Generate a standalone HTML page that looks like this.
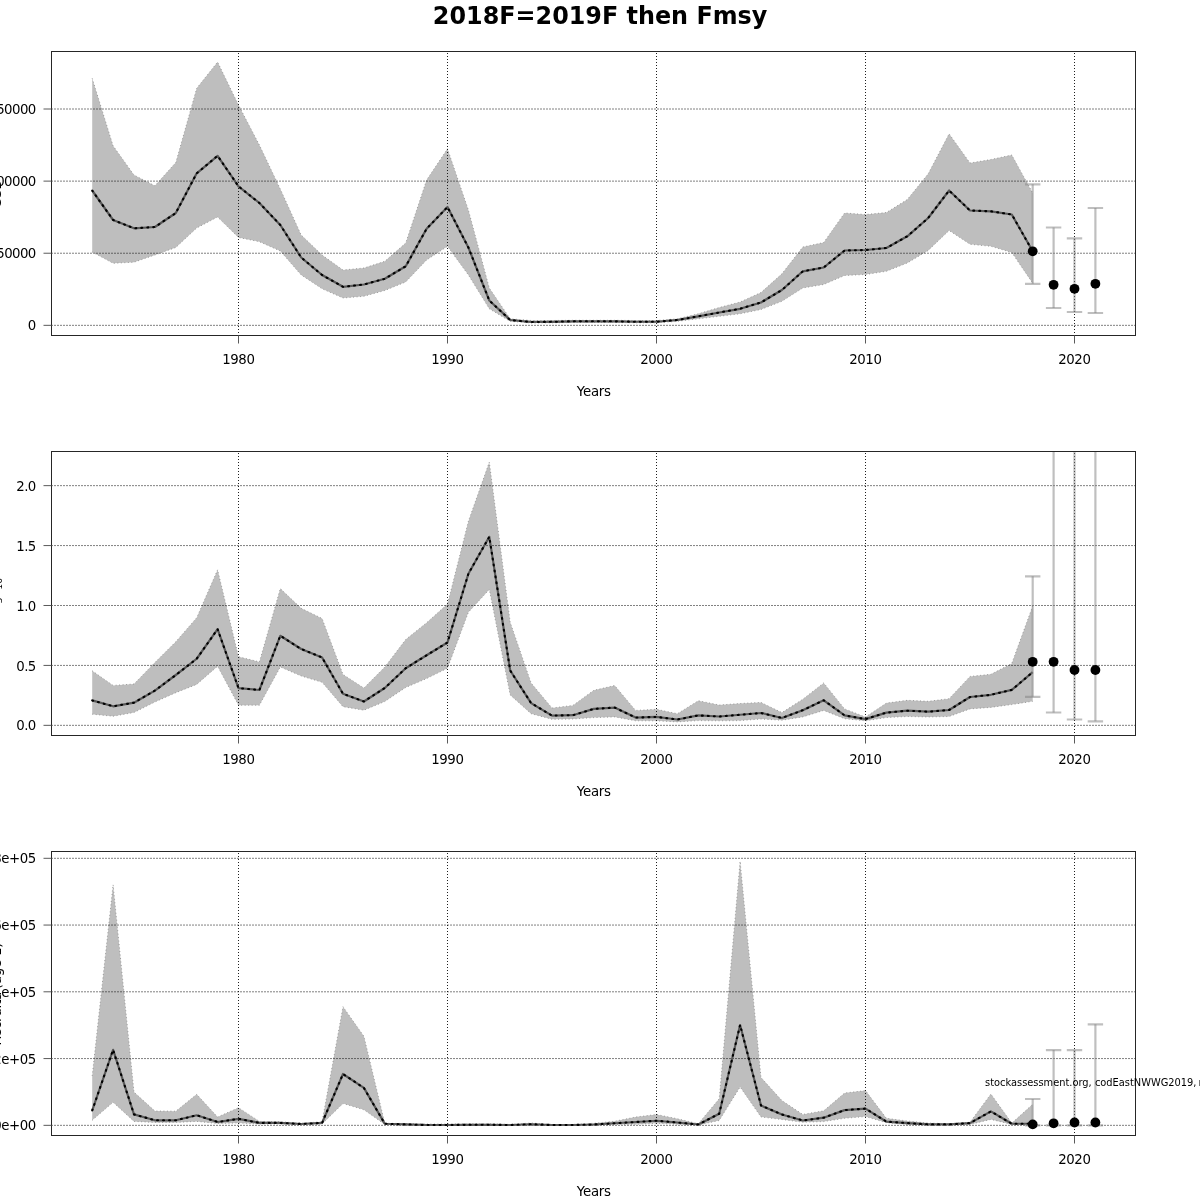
<!DOCTYPE html>
<html><head><meta charset="utf-8"><title>2018F=2019F then Fmsy</title>
<style>
html,body{margin:0;padding:0;background:#fff;}
svg{display:block;will-change:transform;}
text{font-family:'DejaVu Sans', 'Liberation Sans', sans-serif;fill:#000;}
</style></head><body>
<svg width="1200" height="1200" viewBox="0 0 1200 1200">
<rect x="0" y="0" width="1200" height="1200" fill="#fff"/>
<defs>
<clipPath id="c0"><rect x="51.5" y="51.5" width="1084" height="284"/></clipPath>
<clipPath id="c1"><rect x="51.5" y="451.5" width="1084" height="284"/></clipPath>
<clipPath id="c2"><rect x="51.5" y="851.5" width="1084" height="284"/></clipPath>
</defs>
<text x="600.1" y="24.4" text-anchor="middle" font-weight="bold" font-size="24" textLength="334.5" lengthAdjust="spacingAndGlyphs">2018F=2019F then Fmsy</text>

<g clip-path="url(#c0)">
<polygon points="92.20,78.30 113.10,145.80 134.00,175.00 154.90,185.80 175.80,162.50 196.70,88.30 217.60,62.00 238.50,105.00 259.40,145.00 280.30,189.00 301.20,235.00 322.10,255.00 343.00,270.00 363.90,268.00 384.80,261.30 405.70,243.00 426.60,180.00 447.50,148.80 468.40,210.00 489.30,288.00 510.20,318.80 531.10,320.50 552.00,320.50 572.90,320.30 593.80,320.30 614.70,320.30 635.60,320.50 656.50,320.50 677.40,318.80 698.30,313.80 719.20,307.50 740.10,302.00 761.00,292.50 781.90,273.80 802.80,247.00 823.70,242.50 844.60,213.00 865.50,214.50 886.40,212.50 907.30,199.50 928.20,173.80 949.10,133.80 970.00,163.00 990.90,159.50 1011.80,155.00 1032.70,193.00 1032.70,283.20 1011.80,252.50 990.90,246.30 970.00,244.30 949.10,230.50 928.20,250.50 907.30,263.00 886.40,271.30 865.50,274.50 844.60,275.50 823.70,284.50 802.80,288.00 781.90,301.30 761.00,309.50 740.10,313.80 719.20,316.30 698.30,318.80 677.40,321.30 656.50,322.80 635.60,322.80 614.70,322.50 593.80,322.50 572.90,322.50 552.00,322.80 531.10,323.00 510.20,321.30 489.30,308.80 468.40,275.00 447.50,246.30 426.60,260.00 405.70,282.00 384.80,290.50 363.90,296.30 343.00,298.00 322.10,288.80 301.20,275.00 280.30,251.00 259.40,241.70 238.50,237.50 217.60,217.00 196.70,228.00 175.80,247.50 154.90,255.00 134.00,262.20 113.10,263.30 92.20,252.00" fill="#bebebe" stroke="none"/>
<polyline points="92.20,78.30 113.10,145.80 134.00,175.00 154.90,185.80 175.80,162.50 196.70,88.30 217.60,62.00 238.50,105.00 259.40,145.00 280.30,189.00 301.20,235.00 322.10,255.00 343.00,270.00 363.90,268.00 384.80,261.30 405.70,243.00 426.60,180.00 447.50,148.80 468.40,210.00 489.30,288.00 510.20,318.80 531.10,320.50 552.00,320.50 572.90,320.30 593.80,320.30 614.70,320.30 635.60,320.50 656.50,320.50 677.40,318.80 698.30,313.80 719.20,307.50 740.10,302.00 761.00,292.50 781.90,273.80 802.80,247.00 823.70,242.50 844.60,213.00 865.50,214.50 886.40,212.50 907.30,199.50 928.20,173.80 949.10,133.80 970.00,163.00 990.90,159.50 1011.80,155.00 1032.70,193.00" fill="none" stroke="#8a8a8a" stroke-width="0.8" stroke-dasharray="1 2.5"/>
<polyline points="92.20,252.00 113.10,263.30 134.00,262.20 154.90,255.00 175.80,247.50 196.70,228.00 217.60,217.00 238.50,237.50 259.40,241.70 280.30,251.00 301.20,275.00 322.10,288.80 343.00,298.00 363.90,296.30 384.80,290.50 405.70,282.00 426.60,260.00 447.50,246.30 468.40,275.00 489.30,308.80 510.20,321.30 531.10,323.00 552.00,322.80 572.90,322.50 593.80,322.50 614.70,322.50 635.60,322.80 656.50,322.80 677.40,321.30 698.30,318.80 719.20,316.30 740.10,313.80 761.00,309.50 781.90,301.30 802.80,288.00 823.70,284.50 844.60,275.50 865.50,274.50 886.40,271.30 907.30,263.00 928.20,250.50 949.10,230.50 970.00,244.30 990.90,246.30 1011.80,252.50 1032.70,283.20" fill="none" stroke="#8a8a8a" stroke-width="0.8" stroke-dasharray="1 2.5"/>
<line x1="238.50" y1="53.0" x2="238.50" y2="335.5" stroke="#1e1e1e" stroke-width="1" stroke-dasharray="1 2"/>
<line x1="447.50" y1="53.0" x2="447.50" y2="335.5" stroke="#1e1e1e" stroke-width="1" stroke-dasharray="1 2"/>
<line x1="656.50" y1="53.0" x2="656.50" y2="335.5" stroke="#1e1e1e" stroke-width="1" stroke-dasharray="1 2"/>
<line x1="865.50" y1="53.0" x2="865.50" y2="335.5" stroke="#1e1e1e" stroke-width="1" stroke-dasharray="1 2"/>
<line x1="1074.50" y1="53.0" x2="1074.50" y2="335.5" stroke="#1e1e1e" stroke-width="1" stroke-dasharray="1 2"/>
<line x1="51.5" y1="325.33" x2="1135.5" y2="325.33" stroke="#000" stroke-width="1" stroke-dasharray="1 2"/>
<line x1="51.5" y1="253.22" x2="1135.5" y2="253.22" stroke="#000" stroke-width="1" stroke-dasharray="1 2"/>
<line x1="51.5" y1="181.11" x2="1135.5" y2="181.11" stroke="#000" stroke-width="1" stroke-dasharray="1 2"/>
<line x1="51.5" y1="109.0" x2="1135.5" y2="109.0" stroke="#000" stroke-width="1" stroke-dasharray="1 2"/>
<polyline points="92.20,190.50 113.10,220.00 134.00,228.30 154.90,227.00 175.80,213.00 196.70,173.30 217.60,155.80 238.50,186.30 259.40,203.00 280.30,225.00 301.20,257.50 322.10,275.00 343.00,286.80 363.90,284.50 384.80,278.80 405.70,266.30 426.60,228.80 447.50,207.00 468.40,247.50 489.30,300.50 510.20,320.00 531.10,322.00 552.00,321.80 572.90,321.30 593.80,321.30 614.70,321.30 635.60,321.75 656.50,321.75 677.40,320.00 698.30,316.30 719.20,312.50 740.10,308.80 761.00,302.50 781.90,290.00 802.80,271.30 823.70,267.50 844.60,250.50 865.50,250.00 886.40,248.00 907.30,236.30 928.20,218.00 949.10,190.50 970.00,210.50 990.90,211.30 1011.80,214.50 1032.70,251.30" fill="none" stroke="#5a5a5a" stroke-width="2.2" stroke-linejoin="round"/>
<polyline points="92.20,190.50 113.10,220.00 134.00,228.30 154.90,227.00 175.80,213.00 196.70,173.30 217.60,155.80 238.50,186.30 259.40,203.00 280.30,225.00 301.20,257.50 322.10,275.00 343.00,286.80 363.90,284.50 384.80,278.80 405.70,266.30 426.60,228.80 447.50,207.00 468.40,247.50 489.30,300.50 510.20,320.00 531.10,322.00 552.00,321.80 572.90,321.30 593.80,321.30 614.70,321.30 635.60,321.75 656.50,321.75 677.40,320.00 698.30,316.30 719.20,312.50 740.10,308.80 761.00,302.50 781.90,290.00 802.80,271.30 823.70,267.50 844.60,250.50 865.50,250.00 886.40,248.00 907.30,236.30 928.20,218.00 949.10,190.50 970.00,210.50 990.90,211.30 1011.80,214.50 1032.70,251.30" fill="none" stroke="#000" stroke-width="2.1" stroke-dasharray="0.9 5.1" stroke-linecap="round" stroke-linejoin="round"/>
<line x1="1032.70" y1="184.3" x2="1032.70" y2="283.8" stroke="rgba(128,128,128,0.5)" stroke-width="2.2"/>
<line x1="1025.00" y1="184.3" x2="1040.40" y2="184.3" stroke="rgba(128,128,128,0.5)" stroke-width="2.2"/>
<line x1="1025.00" y1="283.8" x2="1040.40" y2="283.8" stroke="rgba(128,128,128,0.5)" stroke-width="2.2"/>
<line x1="1053.60" y1="227.5" x2="1053.60" y2="308" stroke="rgba(128,128,128,0.5)" stroke-width="2.2"/>
<line x1="1045.90" y1="227.5" x2="1061.30" y2="227.5" stroke="rgba(128,128,128,0.5)" stroke-width="2.2"/>
<line x1="1045.90" y1="308" x2="1061.30" y2="308" stroke="rgba(128,128,128,0.5)" stroke-width="2.2"/>
<line x1="1074.50" y1="238.3" x2="1074.50" y2="312" stroke="rgba(128,128,128,0.5)" stroke-width="2.2"/>
<line x1="1066.80" y1="238.3" x2="1082.20" y2="238.3" stroke="rgba(128,128,128,0.5)" stroke-width="2.2"/>
<line x1="1066.80" y1="312" x2="1082.20" y2="312" stroke="rgba(128,128,128,0.5)" stroke-width="2.2"/>
<line x1="1095.40" y1="208" x2="1095.40" y2="313" stroke="rgba(128,128,128,0.5)" stroke-width="2.2"/>
<line x1="1087.70" y1="208" x2="1103.10" y2="208" stroke="rgba(128,128,128,0.5)" stroke-width="2.2"/>
<line x1="1087.70" y1="313" x2="1103.10" y2="313" stroke="rgba(128,128,128,0.5)" stroke-width="2.2"/>
<circle cx="1032.70" cy="251.3" r="4.9" fill="#000"/>
<circle cx="1053.60" cy="284.8" r="4.9" fill="#000"/>
<circle cx="1074.50" cy="288.8" r="4.9" fill="#000"/>
<circle cx="1095.40" cy="283.8" r="4.9" fill="#000"/>
</g>
<rect x="51.5" y="51.5" width="1084.0" height="284.0" fill="none" stroke="#262626" stroke-width="1"/>
<line x1="238.50" y1="335.5" x2="238.50" y2="343.5" stroke="#5a5a5a" stroke-width="1"/>
<text x="238.50" y="364.0" text-anchor="middle" font-size="13.33" textLength="32.75">1980</text>
<line x1="447.50" y1="335.5" x2="447.50" y2="343.5" stroke="#5a5a5a" stroke-width="1"/>
<text x="447.50" y="364.0" text-anchor="middle" font-size="13.33" textLength="32.75">1990</text>
<line x1="656.50" y1="335.5" x2="656.50" y2="343.5" stroke="#5a5a5a" stroke-width="1"/>
<text x="656.50" y="364.0" text-anchor="middle" font-size="13.33" textLength="32.75">2000</text>
<line x1="865.50" y1="335.5" x2="865.50" y2="343.5" stroke="#5a5a5a" stroke-width="1"/>
<text x="865.50" y="364.0" text-anchor="middle" font-size="13.33" textLength="32.75">2010</text>
<line x1="1074.50" y1="335.5" x2="1074.50" y2="343.5" stroke="#5a5a5a" stroke-width="1"/>
<text x="1074.50" y="364.0" text-anchor="middle" font-size="13.33" textLength="32.75">2020</text>
<line x1="43.5" y1="325.33" x2="51.5" y2="325.33" stroke="#5a5a5a" stroke-width="1"/>
<text x="36.3" y="330.43" text-anchor="end" font-size="13.33" textLength="8">0</text>
<line x1="43.5" y1="253.22" x2="51.5" y2="253.22" stroke="#5a5a5a" stroke-width="1"/>
<text x="36.3" y="258.32" text-anchor="end" font-size="13.33" textLength="40">50000</text>
<line x1="43.5" y1="181.11" x2="51.5" y2="181.11" stroke="#5a5a5a" stroke-width="1"/>
<text x="36.3" y="186.21" text-anchor="end" font-size="13.33" textLength="48">100000</text>
<line x1="43.5" y1="109.0" x2="51.5" y2="109.0" stroke="#5a5a5a" stroke-width="1"/>
<text x="36.3" y="114.10" text-anchor="end" font-size="13.33" textLength="48">150000</text>
<text x="593.9" y="395.8" text-anchor="middle" font-size="13.33" textLength="34.3">Years</text>
<text transform="translate(1,193.5) rotate(-90)" text-anchor="middle" font-size="13.33">SSB</text>
<g clip-path="url(#c1)">
<polygon points="92.20,670.80 113.10,685.40 134.00,684.00 154.90,662.50 175.80,641.70 196.70,617.70 217.60,569.80 238.50,656.70 259.40,661.90 280.30,588.50 301.20,608.30 322.10,618.50 343.00,674.40 363.90,688.00 384.80,667.00 405.70,639.50 426.60,622.70 447.50,604.00 468.40,521.20 489.30,462.10 510.20,622.20 531.10,682.90 552.00,708.00 572.90,705.40 593.80,690.30 614.70,685.50 635.60,710.40 656.50,709.30 677.40,713.70 698.30,700.70 719.20,705.00 740.10,703.50 761.00,702.40 781.90,712.60 802.80,699.20 823.70,682.90 844.60,708.90 865.50,717.00 886.40,703.10 907.30,700.30 928.20,701.30 949.10,698.70 970.00,676.40 990.90,674.30 1011.80,663.40 1032.70,606.00 1032.70,701.30 1011.80,704.60 990.90,707.40 970.00,708.90 949.10,716.50 928.20,717.00 907.30,716.50 886.40,717.60 865.50,720.80 844.60,718.70 823.70,710.40 802.80,716.90 781.90,720.20 761.00,719.00 740.10,720.60 719.20,720.80 698.30,720.60 677.40,721.90 656.50,720.80 635.60,720.80 614.70,716.90 593.80,717.60 572.90,719.00 552.00,719.30 531.10,713.70 510.20,695.00 489.30,589.50 468.40,612.20 447.50,668.20 426.60,678.60 405.70,687.50 384.80,701.50 363.90,710.20 343.00,706.70 322.10,682.30 301.20,676.00 280.30,667.00 259.40,705.20 238.50,705.20 217.60,666.25 196.70,684.40 175.80,692.70 154.90,702.00 134.00,712.50 113.10,716.25 92.20,714.20" fill="#bebebe" stroke="none"/>
<polyline points="92.20,670.80 113.10,685.40 134.00,684.00 154.90,662.50 175.80,641.70 196.70,617.70 217.60,569.80 238.50,656.70 259.40,661.90 280.30,588.50 301.20,608.30 322.10,618.50 343.00,674.40 363.90,688.00 384.80,667.00 405.70,639.50 426.60,622.70 447.50,604.00 468.40,521.20 489.30,462.10 510.20,622.20 531.10,682.90 552.00,708.00 572.90,705.40 593.80,690.30 614.70,685.50 635.60,710.40 656.50,709.30 677.40,713.70 698.30,700.70 719.20,705.00 740.10,703.50 761.00,702.40 781.90,712.60 802.80,699.20 823.70,682.90 844.60,708.90 865.50,717.00 886.40,703.10 907.30,700.30 928.20,701.30 949.10,698.70 970.00,676.40 990.90,674.30 1011.80,663.40 1032.70,606.00" fill="none" stroke="#8a8a8a" stroke-width="0.8" stroke-dasharray="1 2.5"/>
<polyline points="92.20,714.20 113.10,716.25 134.00,712.50 154.90,702.00 175.80,692.70 196.70,684.40 217.60,666.25 238.50,705.20 259.40,705.20 280.30,667.00 301.20,676.00 322.10,682.30 343.00,706.70 363.90,710.20 384.80,701.50 405.70,687.50 426.60,678.60 447.50,668.20 468.40,612.20 489.30,589.50 510.20,695.00 531.10,713.70 552.00,719.30 572.90,719.00 593.80,717.60 614.70,716.90 635.60,720.80 656.50,720.80 677.40,721.90 698.30,720.60 719.20,720.80 740.10,720.60 761.00,719.00 781.90,720.20 802.80,716.90 823.70,710.40 844.60,718.70 865.50,720.80 886.40,717.60 907.30,716.50 928.20,717.00 949.10,716.50 970.00,708.90 990.90,707.40 1011.80,704.60 1032.70,701.30" fill="none" stroke="#8a8a8a" stroke-width="0.8" stroke-dasharray="1 2.5"/>
<line x1="238.50" y1="453.0" x2="238.50" y2="735.5" stroke="#1e1e1e" stroke-width="1" stroke-dasharray="1 2"/>
<line x1="447.50" y1="453.0" x2="447.50" y2="735.5" stroke="#1e1e1e" stroke-width="1" stroke-dasharray="1 2"/>
<line x1="656.50" y1="453.0" x2="656.50" y2="735.5" stroke="#1e1e1e" stroke-width="1" stroke-dasharray="1 2"/>
<line x1="865.50" y1="453.0" x2="865.50" y2="735.5" stroke="#1e1e1e" stroke-width="1" stroke-dasharray="1 2"/>
<line x1="1074.50" y1="453.0" x2="1074.50" y2="735.5" stroke="#1e1e1e" stroke-width="1" stroke-dasharray="1 2"/>
<line x1="51.5" y1="725.33" x2="1135.5" y2="725.33" stroke="#000" stroke-width="1" stroke-dasharray="1 2"/>
<line x1="51.5" y1="665.41" x2="1135.5" y2="665.41" stroke="#000" stroke-width="1" stroke-dasharray="1 2"/>
<line x1="51.5" y1="605.49" x2="1135.5" y2="605.49" stroke="#000" stroke-width="1" stroke-dasharray="1 2"/>
<line x1="51.5" y1="545.57" x2="1135.5" y2="545.57" stroke="#000" stroke-width="1" stroke-dasharray="1 2"/>
<line x1="51.5" y1="485.65" x2="1135.5" y2="485.65" stroke="#000" stroke-width="1" stroke-dasharray="1 2"/>
<polyline points="92.20,700.40 113.10,706.30 134.00,702.70 154.90,690.60 175.80,675.00 196.70,658.75 217.60,629.20 238.50,688.10 259.40,690.00 280.30,635.80 301.20,649.00 322.10,657.50 343.00,693.80 363.90,701.50 384.80,688.00 405.70,668.20 426.60,655.30 447.50,642.50 468.40,573.70 489.30,536.80 510.20,670.50 531.10,703.10 552.00,715.60 572.90,715.20 593.80,708.90 614.70,707.60 635.60,717.60 656.50,716.90 677.40,719.50 698.30,715.40 719.20,716.50 740.10,714.75 761.00,713.00 781.90,718.00 802.80,710.20 823.70,700.30 844.60,715.40 865.50,719.10 886.40,712.60 907.30,710.70 928.20,711.70 949.10,710.00 970.00,697.00 990.90,694.80 1011.80,689.90 1032.70,672.10" fill="none" stroke="#5a5a5a" stroke-width="2.2" stroke-linejoin="round"/>
<polyline points="92.20,700.40 113.10,706.30 134.00,702.70 154.90,690.60 175.80,675.00 196.70,658.75 217.60,629.20 238.50,688.10 259.40,690.00 280.30,635.80 301.20,649.00 322.10,657.50 343.00,693.80 363.90,701.50 384.80,688.00 405.70,668.20 426.60,655.30 447.50,642.50 468.40,573.70 489.30,536.80 510.20,670.50 531.10,703.10 552.00,715.60 572.90,715.20 593.80,708.90 614.70,707.60 635.60,717.60 656.50,716.90 677.40,719.50 698.30,715.40 719.20,716.50 740.10,714.75 761.00,713.00 781.90,718.00 802.80,710.20 823.70,700.30 844.60,715.40 865.50,719.10 886.40,712.60 907.30,710.70 928.20,711.70 949.10,710.00 970.00,697.00 990.90,694.80 1011.80,689.90 1032.70,672.10" fill="none" stroke="#000" stroke-width="2.1" stroke-dasharray="0.9 5.1" stroke-linecap="round" stroke-linejoin="round"/>
<line x1="1032.70" y1="576.3" x2="1032.70" y2="696.8" stroke="rgba(128,128,128,0.5)" stroke-width="2.2"/>
<line x1="1025.00" y1="576.3" x2="1040.40" y2="576.3" stroke="rgba(128,128,128,0.5)" stroke-width="2.2"/>
<line x1="1025.00" y1="696.8" x2="1040.40" y2="696.8" stroke="rgba(128,128,128,0.5)" stroke-width="2.2"/>
<line x1="1053.60" y1="440" x2="1053.60" y2="712.5" stroke="rgba(128,128,128,0.5)" stroke-width="2.2"/>
<line x1="1045.90" y1="712.5" x2="1061.30" y2="712.5" stroke="rgba(128,128,128,0.5)" stroke-width="2.2"/>
<line x1="1074.50" y1="440" x2="1074.50" y2="719.5" stroke="rgba(128,128,128,0.5)" stroke-width="2.2"/>
<line x1="1066.80" y1="719.5" x2="1082.20" y2="719.5" stroke="rgba(128,128,128,0.5)" stroke-width="2.2"/>
<line x1="1095.40" y1="440" x2="1095.40" y2="721.3" stroke="rgba(128,128,128,0.5)" stroke-width="2.2"/>
<line x1="1087.70" y1="721.3" x2="1103.10" y2="721.3" stroke="rgba(128,128,128,0.5)" stroke-width="2.2"/>
<circle cx="1032.70" cy="661.8" r="4.9" fill="#000"/>
<circle cx="1053.60" cy="661.8" r="4.9" fill="#000"/>
<circle cx="1074.50" cy="670" r="4.9" fill="#000"/>
<circle cx="1095.40" cy="670" r="4.9" fill="#000"/>
</g>
<rect x="51.5" y="451.5" width="1084.0" height="284.0" fill="none" stroke="#262626" stroke-width="1"/>
<line x1="238.50" y1="735.5" x2="238.50" y2="743.5" stroke="#5a5a5a" stroke-width="1"/>
<text x="238.50" y="764.0" text-anchor="middle" font-size="13.33" textLength="32.75">1980</text>
<line x1="447.50" y1="735.5" x2="447.50" y2="743.5" stroke="#5a5a5a" stroke-width="1"/>
<text x="447.50" y="764.0" text-anchor="middle" font-size="13.33" textLength="32.75">1990</text>
<line x1="656.50" y1="735.5" x2="656.50" y2="743.5" stroke="#5a5a5a" stroke-width="1"/>
<text x="656.50" y="764.0" text-anchor="middle" font-size="13.33" textLength="32.75">2000</text>
<line x1="865.50" y1="735.5" x2="865.50" y2="743.5" stroke="#5a5a5a" stroke-width="1"/>
<text x="865.50" y="764.0" text-anchor="middle" font-size="13.33" textLength="32.75">2010</text>
<line x1="1074.50" y1="735.5" x2="1074.50" y2="743.5" stroke="#5a5a5a" stroke-width="1"/>
<text x="1074.50" y="764.0" text-anchor="middle" font-size="13.33" textLength="32.75">2020</text>
<line x1="43.5" y1="725.33" x2="51.5" y2="725.33" stroke="#5a5a5a" stroke-width="1"/>
<text x="36.3" y="730.43" text-anchor="end" font-size="13.33" textLength="20">0.0</text>
<line x1="43.5" y1="665.41" x2="51.5" y2="665.41" stroke="#5a5a5a" stroke-width="1"/>
<text x="36.3" y="670.51" text-anchor="end" font-size="13.33" textLength="20">0.5</text>
<line x1="43.5" y1="605.49" x2="51.5" y2="605.49" stroke="#5a5a5a" stroke-width="1"/>
<text x="36.3" y="610.59" text-anchor="end" font-size="13.33" textLength="20">1.0</text>
<line x1="43.5" y1="545.57" x2="51.5" y2="545.57" stroke="#5a5a5a" stroke-width="1"/>
<text x="36.3" y="550.67" text-anchor="end" font-size="13.33" textLength="20">1.5</text>
<line x1="43.5" y1="485.65" x2="51.5" y2="485.65" stroke="#5a5a5a" stroke-width="1"/>
<text x="36.3" y="490.75" text-anchor="end" font-size="13.33" textLength="20">2.0</text>
<text x="593.9" y="795.8" text-anchor="middle" font-size="13.33" textLength="34.3">Years</text>
<text transform="translate(-0.7,594.5) rotate(-90)" text-anchor="middle" font-size="13.33">F<tspan font-size="9.33" dy="2.2">3−10</tspan></text>
<g clip-path="url(#c2)">
<polygon points="92.20,1075.90 113.10,884.70 134.00,1092.10 154.90,1111.00 175.80,1111.20 196.70,1094.30 217.60,1117.00 238.50,1107.70 259.40,1121.40 280.30,1121.70 301.20,1123.30 322.10,1121.70 343.00,1006.70 363.90,1036.25 384.80,1123.30 405.70,1123.50 426.60,1124.00 447.50,1124.00 468.40,1123.80 489.30,1123.80 510.20,1124.50 531.10,1123.00 552.00,1124.50 572.90,1124.50 593.80,1123.30 614.70,1121.25 635.60,1117.00 656.50,1114.50 677.40,1118.75 698.30,1123.75 719.20,1098.75 740.10,861.25 761.00,1077.50 781.90,1100.50 802.80,1114.40 823.70,1110.80 844.60,1093.00 865.50,1090.60 886.40,1118.30 907.30,1121.00 928.20,1123.10 949.10,1123.75 970.00,1122.20 990.90,1094.00 1011.80,1123.10 1032.70,1104.25 1032.70,1124.40 1011.80,1124.40 990.90,1119.40 970.00,1124.40 949.10,1124.40 928.20,1124.40 907.30,1124.40 886.40,1122.70 865.50,1116.60 844.60,1118.30 823.70,1121.60 802.80,1122.20 781.90,1119.50 761.00,1117.00 740.10,1087.00 719.20,1120.50 698.30,1125.00 677.40,1124.25 656.50,1123.25 635.60,1124.25 614.70,1124.50 593.80,1125.20 572.90,1125.20 552.00,1125.20 531.10,1125.20 510.20,1125.20 489.30,1125.20 468.40,1125.20 447.50,1125.20 426.60,1125.20 405.70,1125.00 384.80,1124.40 363.90,1109.80 343.00,1103.50 322.10,1124.00 301.20,1124.60 280.30,1124.00 259.40,1124.00 238.50,1122.90 217.60,1123.50 196.70,1121.40 175.80,1122.40 154.90,1122.40 134.00,1121.40 113.10,1102.30 92.20,1120.30" fill="#bebebe" stroke="none"/>
<polyline points="92.20,1075.90 113.10,884.70 134.00,1092.10 154.90,1111.00 175.80,1111.20 196.70,1094.30 217.60,1117.00 238.50,1107.70 259.40,1121.40 280.30,1121.70 301.20,1123.30 322.10,1121.70 343.00,1006.70 363.90,1036.25 384.80,1123.30 405.70,1123.50 426.60,1124.00 447.50,1124.00 468.40,1123.80 489.30,1123.80 510.20,1124.50 531.10,1123.00 552.00,1124.50 572.90,1124.50 593.80,1123.30 614.70,1121.25 635.60,1117.00 656.50,1114.50 677.40,1118.75 698.30,1123.75 719.20,1098.75 740.10,861.25 761.00,1077.50 781.90,1100.50 802.80,1114.40 823.70,1110.80 844.60,1093.00 865.50,1090.60 886.40,1118.30 907.30,1121.00 928.20,1123.10 949.10,1123.75 970.00,1122.20 990.90,1094.00 1011.80,1123.10 1032.70,1104.25" fill="none" stroke="#8a8a8a" stroke-width="0.8" stroke-dasharray="1 2.5"/>
<polyline points="92.20,1120.30 113.10,1102.30 134.00,1121.40 154.90,1122.40 175.80,1122.40 196.70,1121.40 217.60,1123.50 238.50,1122.90 259.40,1124.00 280.30,1124.00 301.20,1124.60 322.10,1124.00 343.00,1103.50 363.90,1109.80 384.80,1124.40 405.70,1125.00 426.60,1125.20 447.50,1125.20 468.40,1125.20 489.30,1125.20 510.20,1125.20 531.10,1125.20 552.00,1125.20 572.90,1125.20 593.80,1125.20 614.70,1124.50 635.60,1124.25 656.50,1123.25 677.40,1124.25 698.30,1125.00 719.20,1120.50 740.10,1087.00 761.00,1117.00 781.90,1119.50 802.80,1122.20 823.70,1121.60 844.60,1118.30 865.50,1116.60 886.40,1122.70 907.30,1124.40 928.20,1124.40 949.10,1124.40 970.00,1124.40 990.90,1119.40 1011.80,1124.40 1032.70,1124.40" fill="none" stroke="#8a8a8a" stroke-width="0.8" stroke-dasharray="1 2.5"/>
<line x1="238.50" y1="853.0" x2="238.50" y2="1135.5" stroke="#1e1e1e" stroke-width="1" stroke-dasharray="1 2"/>
<line x1="447.50" y1="853.0" x2="447.50" y2="1135.5" stroke="#1e1e1e" stroke-width="1" stroke-dasharray="1 2"/>
<line x1="656.50" y1="853.0" x2="656.50" y2="1135.5" stroke="#1e1e1e" stroke-width="1" stroke-dasharray="1 2"/>
<line x1="865.50" y1="853.0" x2="865.50" y2="1135.5" stroke="#1e1e1e" stroke-width="1" stroke-dasharray="1 2"/>
<line x1="1074.50" y1="853.0" x2="1074.50" y2="1135.5" stroke="#1e1e1e" stroke-width="1" stroke-dasharray="1 2"/>
<line x1="51.5" y1="1125.33" x2="1135.5" y2="1125.33" stroke="#000" stroke-width="1" stroke-dasharray="1 2"/>
<line x1="51.5" y1="1058.57" x2="1135.5" y2="1058.57" stroke="#000" stroke-width="1" stroke-dasharray="1 2"/>
<line x1="51.5" y1="991.81" x2="1135.5" y2="991.81" stroke="#000" stroke-width="1" stroke-dasharray="1 2"/>
<line x1="51.5" y1="925.06" x2="1135.5" y2="925.06" stroke="#000" stroke-width="1" stroke-dasharray="1 2"/>
<line x1="51.5" y1="858.3" x2="1135.5" y2="858.3" stroke="#000" stroke-width="1" stroke-dasharray="1 2"/>
<polyline points="92.20,1110.50 113.10,1049.80 134.00,1114.40 154.90,1120.30 175.80,1120.30 196.70,1115.30 217.60,1122.00 238.50,1118.80 259.40,1122.90 280.30,1122.90 301.20,1124.00 322.10,1122.90 343.00,1074.00 363.90,1087.90 384.80,1123.75 405.70,1124.40 426.60,1125.00 447.50,1125.00 468.40,1124.80 489.30,1124.80 510.20,1125.00 531.10,1124.25 552.00,1125.00 572.90,1125.00 593.80,1124.50 614.70,1123.25 635.60,1122.00 656.50,1120.75 677.40,1122.50 698.30,1124.50 719.20,1113.75 740.10,1025.00 761.00,1105.50 781.90,1114.50 802.80,1120.50 823.70,1117.70 844.60,1110.10 865.50,1108.60 886.40,1121.60 907.30,1123.10 928.20,1124.40 949.10,1124.40 970.00,1123.10 990.90,1111.40 1011.80,1123.75 1032.70,1123.75" fill="none" stroke="#5a5a5a" stroke-width="2.2" stroke-linejoin="round"/>
<polyline points="92.20,1110.50 113.10,1049.80 134.00,1114.40 154.90,1120.30 175.80,1120.30 196.70,1115.30 217.60,1122.00 238.50,1118.80 259.40,1122.90 280.30,1122.90 301.20,1124.00 322.10,1122.90 343.00,1074.00 363.90,1087.90 384.80,1123.75 405.70,1124.40 426.60,1125.00 447.50,1125.00 468.40,1124.80 489.30,1124.80 510.20,1125.00 531.10,1124.25 552.00,1125.00 572.90,1125.00 593.80,1124.50 614.70,1123.25 635.60,1122.00 656.50,1120.75 677.40,1122.50 698.30,1124.50 719.20,1113.75 740.10,1025.00 761.00,1105.50 781.90,1114.50 802.80,1120.50 823.70,1117.70 844.60,1110.10 865.50,1108.60 886.40,1121.60 907.30,1123.10 928.20,1124.40 949.10,1124.40 970.00,1123.10 990.90,1111.40 1011.80,1123.75 1032.70,1123.75" fill="none" stroke="#000" stroke-width="2.1" stroke-dasharray="0.9 5.1" stroke-linecap="round" stroke-linejoin="round"/>
<line x1="1032.70" y1="1099" x2="1032.70" y2="1125.4" stroke="rgba(128,128,128,0.5)" stroke-width="2.2"/>
<line x1="1025.00" y1="1099" x2="1040.40" y2="1099" stroke="rgba(128,128,128,0.5)" stroke-width="2.2"/>
<line x1="1025.00" y1="1125.4" x2="1040.40" y2="1125.4" stroke="rgba(128,128,128,0.5)" stroke-width="2.2"/>
<line x1="1053.60" y1="1050.1" x2="1053.60" y2="1125.4" stroke="rgba(128,128,128,0.5)" stroke-width="2.2"/>
<line x1="1045.90" y1="1050.1" x2="1061.30" y2="1050.1" stroke="rgba(128,128,128,0.5)" stroke-width="2.2"/>
<line x1="1045.90" y1="1125.4" x2="1061.30" y2="1125.4" stroke="rgba(128,128,128,0.5)" stroke-width="2.2"/>
<line x1="1074.50" y1="1050.1" x2="1074.50" y2="1125.4" stroke="rgba(128,128,128,0.5)" stroke-width="2.2"/>
<line x1="1066.80" y1="1050.1" x2="1082.20" y2="1050.1" stroke="rgba(128,128,128,0.5)" stroke-width="2.2"/>
<line x1="1066.80" y1="1125.4" x2="1082.20" y2="1125.4" stroke="rgba(128,128,128,0.5)" stroke-width="2.2"/>
<line x1="1095.40" y1="1024.3" x2="1095.40" y2="1125.4" stroke="rgba(128,128,128,0.5)" stroke-width="2.2"/>
<line x1="1087.70" y1="1024.3" x2="1103.10" y2="1024.3" stroke="rgba(128,128,128,0.5)" stroke-width="2.2"/>
<line x1="1087.70" y1="1125.4" x2="1103.10" y2="1125.4" stroke="rgba(128,128,128,0.5)" stroke-width="2.2"/>
<circle cx="1032.70" cy="1124.4" r="4.9" fill="#000"/>
<circle cx="1053.60" cy="1123.3" r="4.9" fill="#000"/>
<circle cx="1074.50" cy="1122.5" r="4.9" fill="#000"/>
<circle cx="1095.40" cy="1122.5" r="4.9" fill="#000"/>
</g>
<rect x="51.5" y="851.5" width="1084.0" height="284.0" fill="none" stroke="#262626" stroke-width="1"/>
<line x1="238.50" y1="1135.5" x2="238.50" y2="1143.5" stroke="#5a5a5a" stroke-width="1"/>
<text x="238.50" y="1164.0" text-anchor="middle" font-size="13.33" textLength="32.75">1980</text>
<line x1="447.50" y1="1135.5" x2="447.50" y2="1143.5" stroke="#5a5a5a" stroke-width="1"/>
<text x="447.50" y="1164.0" text-anchor="middle" font-size="13.33" textLength="32.75">1990</text>
<line x1="656.50" y1="1135.5" x2="656.50" y2="1143.5" stroke="#5a5a5a" stroke-width="1"/>
<text x="656.50" y="1164.0" text-anchor="middle" font-size="13.33" textLength="32.75">2000</text>
<line x1="865.50" y1="1135.5" x2="865.50" y2="1143.5" stroke="#5a5a5a" stroke-width="1"/>
<text x="865.50" y="1164.0" text-anchor="middle" font-size="13.33" textLength="32.75">2010</text>
<line x1="1074.50" y1="1135.5" x2="1074.50" y2="1143.5" stroke="#5a5a5a" stroke-width="1"/>
<text x="1074.50" y="1164.0" text-anchor="middle" font-size="13.33" textLength="32.75">2020</text>
<line x1="43.5" y1="1125.33" x2="51.5" y2="1125.33" stroke="#5a5a5a" stroke-width="1"/>
<text x="36.3" y="1130.43" text-anchor="end" font-size="13.33" textLength="43">0e+00</text>
<line x1="43.5" y1="1058.57" x2="51.5" y2="1058.57" stroke="#5a5a5a" stroke-width="1"/>
<text x="36.3" y="1063.67" text-anchor="end" font-size="13.33" textLength="43">2e+05</text>
<line x1="43.5" y1="991.81" x2="51.5" y2="991.81" stroke="#5a5a5a" stroke-width="1"/>
<text x="36.3" y="996.91" text-anchor="end" font-size="13.33" textLength="43">4e+05</text>
<line x1="43.5" y1="925.06" x2="51.5" y2="925.06" stroke="#5a5a5a" stroke-width="1"/>
<text x="36.3" y="930.16" text-anchor="end" font-size="13.33" textLength="43">6e+05</text>
<line x1="43.5" y1="858.3" x2="51.5" y2="858.3" stroke="#5a5a5a" stroke-width="1"/>
<text x="36.3" y="863.40" text-anchor="end" font-size="13.33" textLength="43">8e+05</text>
<text x="593.9" y="1195.8" text-anchor="middle" font-size="13.33" textLength="34.3">Years</text>
<text transform="translate(1,994.0) rotate(-90)" text-anchor="middle" font-size="13.33" textLength="103">Recruits (age 1)</text>
<text x="985" y="1085.75" font-size="10.67" textLength="211.5" lengthAdjust="spacingAndGlyphs">stockassessment.org, codEastNWWG2019,</text>
<text x="1198.6" y="1085.75" font-size="10.67">nwwg</text>
</svg></body></html>
